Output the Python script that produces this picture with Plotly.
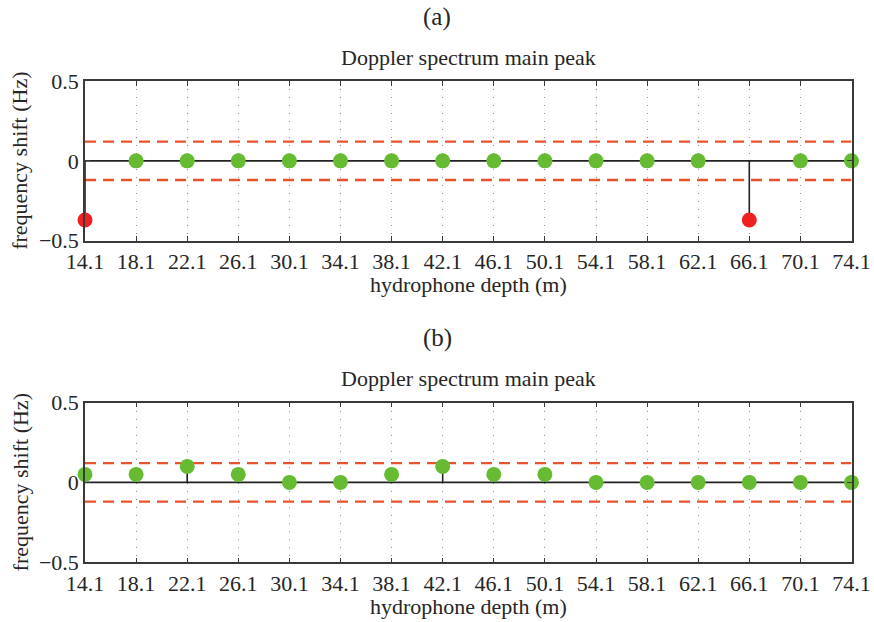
import plotly.graph_objects as go

# Hydrophone depths (m)
depths = [14.1, 18.1, 22.1, 26.1, 30.1, 34.1, 38.1, 42.1, 46.1, 50.1,
          54.1, 58.1, 62.1, 66.1, 70.1, 74.1]
tick_labels = [f"{d:.1f}" for d in depths]

# Main Doppler peak frequency shift (Hz) per hydrophone
shift_a = [-0.37, 0, 0, 0, 0, 0, 0, 0, 0, 0, 0, 0, 0, -0.37, 0, 0]
shift_b = [0.05, 0.05, 0.1, 0.05, 0, 0, 0.05, 0.1, 0.05, 0.05, 0, 0, 0, 0, 0, 0]

# Detection threshold (Hz)
threshold = 0.12

panel_labels = ["(a)", "(b)"]
panel_title = "Doppler spectrum main peak"
x_title = "hydrophone depth (m)"
y_title = "frequency shift (Hz)"

GREEN = "#66bb33"
RED = "#ee2020"
DASH = "#e8522c"
FONT = "Liberation Serif"
TXT = "#262626"

fig = go.Figure()

W, H = 874, 622
# panel vertical domains (paper coords) and shared x domain
x_dom = [85 / W, 851.5 / W]
y_doms = [[1 - 240.7 / H, 1 - 81 / H], [1 - 562.3 / H, 1 - 402.5 / H]]


def add_panel(values, idx):
    xa = "x" if idx == 0 else "x2"
    ya = "y" if idx == 0 else "y2"
    # threshold lines
    for s in (1, -1):
        fig.add_trace(go.Scatter(
            x=[depths[0], depths[-1]], y=[s * threshold, s * threshold],
            mode="lines", line=dict(color=DASH, width=2.3, dash="11px,7px"),
            xaxis=xa, yaxis=ya, showlegend=False, hoverinfo="skip"))
    # stem baseline
    fig.add_trace(go.Scatter(
        x=[depths[0], depths[-1]], y=[0, 0], mode="lines",
        line=dict(color="#222222", width=1.6),
        xaxis=xa, yaxis=ya, showlegend=False, hoverinfo="skip"))
    # stems
    sx, sy = [], []
    for d, v in zip(depths, values):
        sx += [d, d, None]
        sy += [0, v, None]
    fig.add_trace(go.Scatter(
        x=sx, y=sy, mode="lines", line=dict(color="#222222", width=1.6),
        xaxis=xa, yaxis=ya, showlegend=False, hoverinfo="skip"))
    # markers: red when outside threshold band
    colors = [RED if abs(v) > threshold else GREEN for v in values]
    fig.add_trace(go.Scatter(
        x=depths, y=values, mode="markers",
        marker=dict(color=colors, size=15, line=dict(width=0)),
        xaxis=xa, yaxis=ya, showlegend=False, cliponaxis=False))


add_panel(shift_a, 0)
add_panel(shift_b, 1)

axis_common = dict(
    showline=True, linecolor="#3a3a3a", linewidth=1.6, mirror="ticks",
    ticks="inside", ticklen=5, tickcolor="#3a3a3a", tickwidth=1.2,
    tickfont=dict(family=FONT, size=22, color=TXT),
    zeroline=False, automargin=False,
)

for i in range(2):
    sfx = "" if i == 0 else "2"
    fig.update_layout(**{
        f"xaxis{sfx}": dict(
            axis_common, domain=x_dom, range=[depths[0], depths[-1]],
            tickmode="array", tickvals=depths, ticktext=tick_labels,
            showgrid=True, gridcolor="#8c8c8c", griddash="1px,7px",
            gridwidth=1.2, anchor="y" + sfx, ticklabelstandoff=0),
        f"yaxis{sfx}": dict(
            axis_common, domain=y_doms[i], range=[-0.5, 0.5],
            tickmode="array", tickvals=[-0.5, 0, 0.5],
            ticktext=["\u22120.5", "0", "0.5"],
            showgrid=False, anchor="x" + sfx),
    })

annotations = []
xc = (x_dom[0] + x_dom[1]) / 2
for i, dom in enumerate(y_doms):
    top_px = (1 - dom[1]) * H
    bot_px = (1 - dom[0]) * H
    common = dict(xref="paper", yref="paper", showarrow=False,
                  xanchor="center", yanchor="middle")
    annotations += [
        dict(common, text=panel_labels[i], x=437 / W, y=1 - (top_px - 64) / H,
             font=dict(family=FONT, size=25, color=TXT)),
        dict(common, text=panel_title, x=xc, y=1 - (top_px - 24) / H,
             font=dict(family=FONT, size=22, color=TXT)),
        dict(common, text=x_title, x=xc, y=1 - (bot_px + 44) / H,
             font=dict(family=FONT, size=22, color=TXT)),
        dict(common, text=y_title, x=20 / W, y=(dom[0] + dom[1]) / 2,
             textangle=-90, font=dict(family=FONT, size=22, color=TXT)),
    ]

fig.update_layout(
    width=W, height=H,
    margin=dict(l=0, r=0, t=0, b=0),
    paper_bgcolor="white", plot_bgcolor="white",
    annotations=annotations,
)

fig.write_html("out.html")
